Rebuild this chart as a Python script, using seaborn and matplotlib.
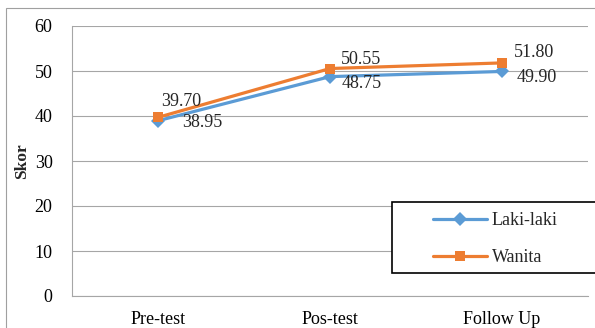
import pandas as pd
import numpy as np
import matplotlib
matplotlib.use('Agg')
import matplotlib.pyplot as plt
from matplotlib.patches import Rectangle
import seaborn as sns

# datos del grafico
kategori = ['Pre-test', 'Pos-test', 'Follow Up']
laki = [38.95, 48.75, 49.90]
wanita = [39.70, 50.55, 51.80]
grup = ['Laki-laki', 'Wanita']

df = pd.DataFrame({
    'Tes': kategori * 2,
    'Skor': laki + wanita,
    'Grup': [grup[0]] * 3 + [grup[1]] * 3,
})

sns.set_style('white')
plt.rcParams['font.family'] = ['Liberation Serif', 'DejaVu Serif']

warna = {'Laki-laki': '#5B9BD5', 'Wanita': '#ED7D31'}
penanda = {'Laki-laki': 'D', 'Wanita': 's'}

fig = plt.figure(figsize=(5.95, 3.28), dpi=100)
ax = fig.add_axes([72/595, 1-296/328, (588-72)/595, (296-26)/328])

sns.lineplot(data=df, x='Tes', y='Skor', hue='Grup', style='Grup',
             hue_order=grup, style_order=grup, palette=warna,
             markers=penanda, dashes=False, sort=False, ax=ax,
             linewidth=2.3, markersize=7.5, markeredgewidth=0)

handles, labels = ax.get_legend_handles_labels()
ax.get_legend().remove()

ax.set_xlim(-0.5, 2.5)
ax.set_ylim(0, 60)
ax.set_yticks(range(0, 61, 10))
ax.set_xlabel('')
ax.set_ylabel('Skor', fontsize=12.5, fontweight='bold')
ax.yaxis.set_label_coords((30-72)/516, 0.5)
ax.tick_params(axis='y', length=0, pad=14, labelsize=13, colors='black')
ax.tick_params(axis='x', length=0, pad=11, labelsize=13, colors='black')
ax.grid(axis='y', color='#A6A6A6', linewidth=0.8)
ax.set_axisbelow(True)
for s in ['top', 'right']:
    ax.spines[s].set_visible(False)
for s in ['left', 'bottom']:
    ax.spines[s].set_color('#A6A6A6')
    ax.spines[s].set_linewidth(0.8)

# etiquetas de datos (desplazamiento en pixeles)
geser_laki = [(24, -2), (12, -6.5), (15, -6.5)]
geser_wanita = [(3, 15.5), (11, 9.5), (12, 10)]
for i in range(3):
    ax.annotate('{:.2f}'.format(laki[i]), (i, laki[i]),
                xytext=(geser_laki[i][0]*0.72, geser_laki[i][1]*0.72),
                textcoords='offset points', ha='left', va='center', fontsize=13)
    ax.annotate('{:.2f}'.format(wanita[i]), (i, wanita[i]),
                xytext=(geser_wanita[i][0]*0.72, geser_wanita[i][1]*0.72),
                textcoords='offset points', ha='left', va='center', fontsize=13)

# marco exterior
fig.add_artist(Rectangle((6/595, -0.1), 1.2, 1.1 - 8/328, transform=fig.transFigure,
                         fill=False, edgecolor='#A0A0A0', linewidth=0.8))

# caja de leyenda
fig.add_artist(Rectangle((392/595, 1-273/328), 0.5, 71/328, transform=fig.transFigure,
                         facecolor='white', edgecolor='black', linewidth=1.2, zorder=4))
leg = fig.legend(handles, labels, loc='center left',
                 bbox_to_anchor=(433/595, 1-239/328), frameon=False,
                 borderpad=0, borderaxespad=0, handlelength=3.0, handletextpad=0.25,
                 labelspacing=1.1, fontsize=13)
leg.set_zorder(5)

fig.savefig('out.png', dpi=100)
